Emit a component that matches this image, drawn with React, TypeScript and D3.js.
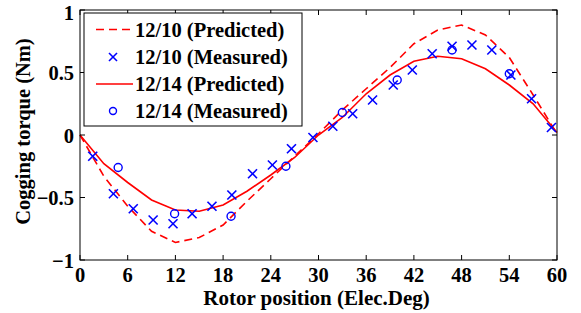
import React from "react";
import * as d3 from "d3";

// rotor position (elec. deg) of the predicted curves
const predX = [0, 3, 6, 9, 12, 15, 18, 21, 24, 27, 30, 33, 36, 39, 42, 45, 48, 51, 54, 57, 60];
const pred1210 = [0, -0.33, -0.57, -0.77, -0.86, -0.82, -0.72, -0.53, -0.35, -0.17, 0.01, 0.2, 0.37, 0.54, 0.73, 0.84, 0.88, 0.8, 0.62, 0.32, 0.01];
const pred1214 = [0, -0.23, -0.38, -0.52, -0.6, -0.61, -0.56, -0.45, -0.32, -0.18, 0.0, 0.14, 0.33, 0.48, 0.59, 0.63, 0.61, 0.53, 0.4, 0.25, 0.02];

// measured 12/10
const meas1210X = [1.6, 4.2, 6.7, 9.2, 11.7, 14.1, 16.6, 19.1, 21.7, 24.2, 26.6, 29.3, 31.8, 34.3, 36.8, 39.4, 41.8, 44.3, 46.8, 49.3, 51.8, 54.2, 56.8, 59.3];
const meas1210Y = [-0.17, -0.47, -0.59, -0.68, -0.71, -0.63, -0.57, -0.48, -0.31, -0.24, -0.11, -0.02, 0.07, 0.17, 0.28, 0.4, 0.52, 0.65, 0.71, 0.72, 0.68, 0.48, 0.29, 0.06];

// measured 12/14
const meas1214X = [4.8, 11.9, 19.0, 25.9, 33.0, 39.9, 46.8, 54.0];
const meas1214Y = [-0.26, -0.63, -0.65, -0.25, 0.18, 0.44, 0.68, 0.49];

const xTicks = [0, 6, 12, 18, 24, 30, 36, 42, 48, 54, 60];
const yTicks = [-1, -0.5, 0, 0.5, 1];

const legendLabels = ["12/10 (Predicted)", "12/10 (Measured)", "12/14 (Predicted)", "12/14 (Measured)"];

const W = 581;
const H = 313;
const margin = { left: 80, right: 24, top: 10, bottom: 53 };
const font = (size: number): React.CSSProperties => ({
  fontFamily: '"Liberation Serif", serif',
  fontWeight: "bold",
  fontSize: `${size}px`,
});

export default function App() {
  const x = d3.scaleLinear().domain([0, 60]).range([margin.left, W - margin.right]);
  const y = d3.scaleLinear().domain([-1, 1]).range([H - margin.bottom, margin.top]);

  const line = d3
    .line<number>()
    .x((_, i) => x(predX[i]))
    .y((d) => y(d));

  const x0 = x(0), x1 = x(60), y0 = y(-1), y1 = y(1);
  const tk = 5;

  const cross = (cx: number, cy: number, key: string | number, s = 4.5) => (
    <g key={key} stroke="#0000ff" strokeWidth={1.6}>
      <line x1={cx - s} y1={cy - s} x2={cx + s} y2={cy + s} />
      <line x1={cx - s} y1={cy + s} x2={cx + s} y2={cy - s} />
    </g>
  );

  const lg = { x: 84, y: 13, w: 218, h: 113 };
  const rowY = [29.5, 57, 84, 111];

  return (
    <svg width={W} height={H} style={{ position: "absolute", left: 0, top: 0, background: "#fff" }}>
      <rect x={0} y={0} width={W} height={H} fill="#fff" />

      {/* curves */}
      <path d={line(pred1210) || ""} fill="none" stroke="#ff0000" strokeWidth={1.6} strokeDasharray="8,5" />
      <path d={line(pred1214) || ""} fill="none" stroke="#ff0000" strokeWidth={1.6} />

      {meas1210X.map((d, i) => cross(x(d), y(meas1210Y[i]), "m10" + i))}
      {meas1214X.map((d, i) => (
        <circle key={"m14" + i} cx={x(d)} cy={y(meas1214Y[i])} r={4} fill="none" stroke="#0000ff" strokeWidth={1.4} />
      ))}

      {/* box */}
      <rect x={x0} y={y1} width={x1 - x0} height={y0 - y1} fill="none" stroke="#000" strokeWidth={1} />

      {/* ticks */}
      {xTicks.map((t) => (
        <g key={"xt" + t}>
          <line x1={x(t)} x2={x(t)} y1={y0} y2={y0 - tk} stroke="#000" />
          <line x1={x(t)} x2={x(t)} y1={y1} y2={y1 + tk} stroke="#000" />
          <text x={x(t)} y={282} textAnchor="middle" style={font(20.5)}>
            {t}
          </text>
        </g>
      ))}
      {yTicks.map((t) => (
        <g key={"yt" + t}>
          <line x1={x0} x2={x0 + tk} y1={y(t)} y2={y(t)} stroke="#000" />
          <line x1={x1} x2={x1 - tk} y1={y(t)} y2={y(t)} stroke="#000" />
          <text x={x0 - 6} y={y(t) + (t === 1 ? 2 : 0)} dy="0.39em" textAnchor="end" style={font(20.5)}>
            {t === -1 ? "\u22121" : t === -0.5 ? "\u22120.5" : t}
          </text>
        </g>
      ))}

      {/* axis titles */}
      <text x={316.5} y={305} textAnchor="middle" style={font(21)}>
        Rotor position (Elec.Deg)
      </text>
      <text transform="translate(30, 131.5) rotate(-90)" textAnchor="middle" style={font(20.5)}>
        Cogging torque (Nm)
      </text>

      {/* legend */}
      <rect x={lg.x} y={lg.y} width={lg.w} height={lg.h} fill="#fff" stroke="#000" strokeWidth={1} />
      <line x1={96} x2={133} y1={rowY[0]} y2={rowY[0]} stroke="#ff0000" strokeWidth={1.6} strokeDasharray="8,5" />
      {cross(113, rowY[1], "lg1", 4)}
      <line x1={96} x2={133} y1={rowY[2]} y2={rowY[2]} stroke="#ff0000" strokeWidth={1.6} />
      <circle cx={113} cy={rowY[3]} r={3.5} fill="none" stroke="#0000ff" strokeWidth={1.4} />
      {legendLabels.map((l, i) => (
        <text key={l} x={135} y={rowY[i]} dy="0.35em" style={font(20.5)}>
          {l}
        </text>
      ))}
    </svg>
  );
}
